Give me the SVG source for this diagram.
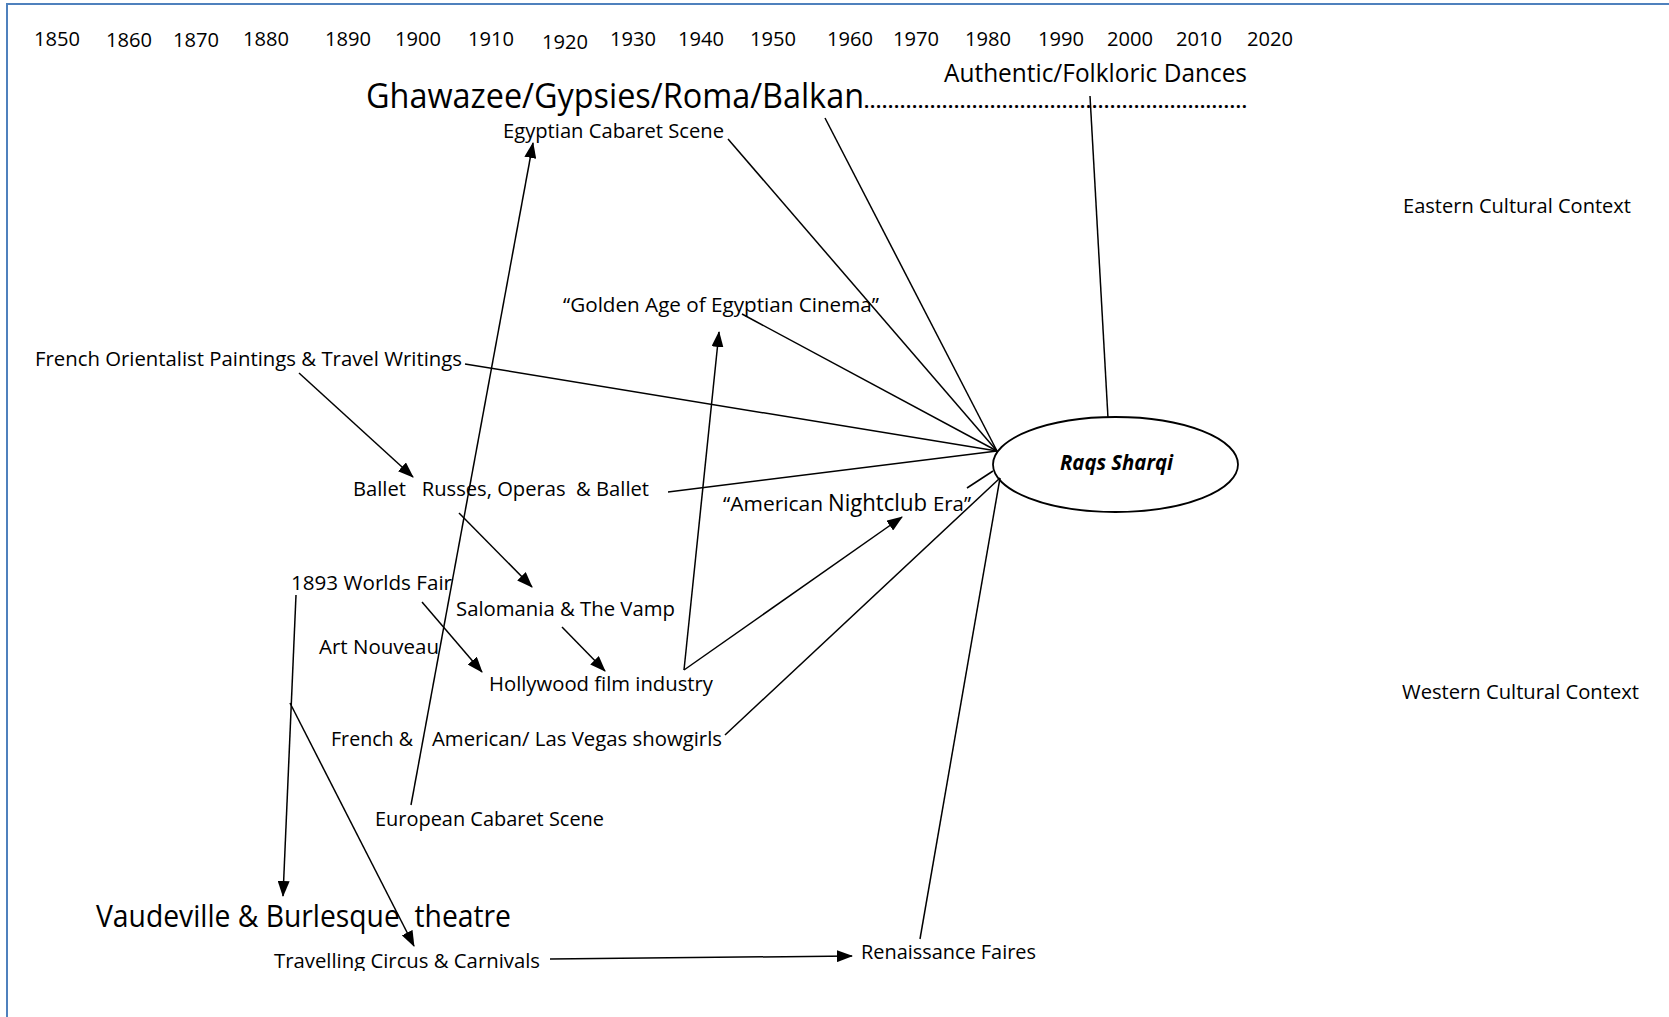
<svg xmlns="http://www.w3.org/2000/svg" width="1669" height="1017" viewBox="0 0 1669 1017">
<style>
  text { font-family: "Open Sans", "Noto Sans", "Liberation Sans", sans-serif; fill: #000; white-space: pre; }
  .yr { font-size: 20px; }
  .lbl { font-size: 20px; }
  .big { font-size: 34px; }
  .mid { font-size: 25px; }
  .dots { font-size: 18px; font-weight: bold; }
  .conn line { stroke: #000; stroke-width: 1.5; fill: none; }
  .arr { marker-end: url(#ah); }
  .frame { stroke: #4F81BD; stroke-width: 2; fill: none; }
</style>
<defs>
  <marker id="ah" markerUnits="userSpaceOnUse" markerWidth="16" markerHeight="12" viewBox="0 0 16 12" refX="15" refY="6" orient="auto">
    <path d="M0,0 L16,6 L0,12 z" fill="#000"/>
  </marker>
  <clipPath id="clipTC"><rect x="260" y="930" width="300" height="41"/></clipPath>
</defs>
<rect width="1669" height="1017" fill="#fff"/>
<path class="frame" d="M7,1017 L7,4 L1669,4"/>

<g id="timeline">
  <text class="yr" x="34" y="46" textLength="46" lengthAdjust="spacingAndGlyphs">1850</text>
  <text class="yr" x="106" y="47" textLength="46" lengthAdjust="spacingAndGlyphs">1860</text>
  <text class="yr" x="173" y="47" textLength="46" lengthAdjust="spacingAndGlyphs">1870</text>
  <text class="yr" x="243" y="46" textLength="46" lengthAdjust="spacingAndGlyphs">1880</text>
  <text class="yr" x="325" y="46" textLength="46" lengthAdjust="spacingAndGlyphs">1890</text>
  <text class="yr" x="395" y="46" textLength="46" lengthAdjust="spacingAndGlyphs">1900</text>
  <text class="yr" x="468" y="46" textLength="46" lengthAdjust="spacingAndGlyphs">1910</text>
  <text class="yr" x="542" y="49" textLength="46" lengthAdjust="spacingAndGlyphs">1920</text>
  <text class="yr" x="610" y="46" textLength="46" lengthAdjust="spacingAndGlyphs">1930</text>
  <text class="yr" x="678" y="46" textLength="46" lengthAdjust="spacingAndGlyphs">1940</text>
  <text class="yr" x="750" y="46" textLength="46" lengthAdjust="spacingAndGlyphs">1950</text>
  <text class="yr" x="827" y="46" textLength="46" lengthAdjust="spacingAndGlyphs">1960</text>
  <text class="yr" x="893" y="46" textLength="46" lengthAdjust="spacingAndGlyphs">1970</text>
  <text class="yr" x="965" y="46" textLength="46" lengthAdjust="spacingAndGlyphs">1980</text>
  <text class="yr" x="1038" y="46" textLength="46" lengthAdjust="spacingAndGlyphs">1990</text>
  <text class="yr" x="1107" y="46" textLength="46" lengthAdjust="spacingAndGlyphs">2000</text>
  <text class="yr" x="1176" y="46" textLength="46" lengthAdjust="spacingAndGlyphs">2010</text>
  <text class="yr" x="1247" y="46" textLength="46" lengthAdjust="spacingAndGlyphs">2020</text>
</g>

<g id="ghawazee">
  <text class="big" x="366" y="108" textLength="498" lengthAdjust="spacingAndGlyphs">Ghawazee/Gypsies/Roma/Balkan</text>
  <text class="dots" x="864" y="108" textLength="383" lengthAdjust="spacing">................................................................</text>
</g>
<g id="authentic"><text class="mid" x="944" y="82" textLength="303" lengthAdjust="spacingAndGlyphs">Authentic/Folkloric Dances</text></g>
<g id="egyptian-cabaret"><text class="lbl" x="503" y="138" textLength="221" lengthAdjust="spacingAndGlyphs">Egyptian Cabaret Scene</text></g>
<g id="eastern"><text class="lbl" x="1403" y="213" textLength="228" lengthAdjust="spacingAndGlyphs">Eastern Cultural Context</text></g>
<g id="western"><text class="lbl" x="1402" y="699" textLength="237" lengthAdjust="spacingAndGlyphs">Western Cultural Context</text></g>
<g id="golden-age"><text class="lbl" x="563" y="312" textLength="316" lengthAdjust="spacingAndGlyphs">“Golden Age of Egyptian Cinema”</text></g>
<g id="french-orientalist"><text class="lbl" x="35" y="366" textLength="427" lengthAdjust="spacingAndGlyphs">French Orientalist Paintings &amp; Travel Writings</text></g>
<g id="ballet"><text class="lbl" x="353" y="496" textLength="296" lengthAdjust="spacingAndGlyphs">Ballet   Russes, Operas  &amp; Ballet</text></g>
<g id="nightclub">
  <text class="lbl" y="511"><tspan x="723" textLength="100" lengthAdjust="spacingAndGlyphs">“American</tspan><tspan x="828" style="font-size:24px" textLength="99" lengthAdjust="spacingAndGlyphs">Nightclub</tspan><tspan x="933" textLength="38" lengthAdjust="spacingAndGlyphs">Era”</tspan></text>
</g>
<g id="worlds-fair"><text class="lbl" x="291" y="590" textLength="161" lengthAdjust="spacingAndGlyphs">1893 Worlds Fair</text></g>
<g id="salomania"><text class="lbl" x="456" y="616" textLength="219" lengthAdjust="spacingAndGlyphs">Salomania &amp; The Vamp</text></g>
<g id="art-nouveau"><text class="lbl" x="319" y="654" textLength="120" lengthAdjust="spacingAndGlyphs">Art Nouveau</text></g>
<g id="hollywood"><text class="lbl" x="489" y="691" textLength="224" lengthAdjust="spacingAndGlyphs">Hollywood film industry</text></g>
<g id="showgirls">
  <text class="lbl" y="746"><tspan x="331" textLength="82" lengthAdjust="spacingAndGlyphs">French &amp;</tspan><tspan x="432" textLength="290" lengthAdjust="spacingAndGlyphs">American/ Las Vegas showgirls</tspan></text>
</g>
<g id="european-cabaret"><text class="lbl" x="375" y="826" textLength="229" lengthAdjust="spacingAndGlyphs">European Cabaret Scene</text></g>
<g id="vaudeville"><text class="big" style="font-size:31px" x="96" y="927" textLength="415" lengthAdjust="spacingAndGlyphs">Vaudeville &amp; Burlesque  theatre</text></g>
<g id="travelling" clip-path="url(#clipTC)"><text class="lbl" x="274" y="968" textLength="266" lengthAdjust="spacingAndGlyphs">Travelling Circus &amp; Carnivals</text></g>
<g id="renaissance"><text class="lbl" x="861" y="959" textLength="175" lengthAdjust="spacingAndGlyphs">Renaissance Faires</text></g>
<g id="raqs-sharqi">
  <ellipse cx="1115.5" cy="464.5" rx="122.5" ry="47.5" fill="none" stroke="#000" stroke-width="1.8"/>
  <text x="1060" y="470" style="font-size:21px;font-weight:bold;font-style:italic" textLength="113" lengthAdjust="spacingAndGlyphs">Raqs Sharqi</text>
</g>

<g id="connectors" class="conn">
  <line class="arr" x1="411" y1="805" x2="533" y2="143"/>
  <line class="arr" x1="299" y1="373" x2="413" y2="477"/>
  <line x1="465" y1="364" x2="997" y2="451"/>
  <line x1="728" y1="139" x2="997" y2="451"/>
  <line x1="825" y1="118" x2="997" y2="451"/>
  <line x1="1090" y1="96" x2="1108" y2="418"/>
  <line x1="742" y1="314" x2="997" y2="451"/>
  <line x1="668" y1="492" x2="997" y2="451"/>
  <line class="arr" x1="459" y1="513" x2="532" y2="587"/>
  <line class="arr" x1="422" y1="602" x2="482" y2="672"/>
  <line class="arr" x1="562" y1="627" x2="605" y2="671"/>
  <line class="arr" x1="684" y1="670" x2="719" y2="332"/>
  <line class="arr" x1="684" y1="670" x2="902" y2="517"/>
  <line x1="967" y1="488" x2="993" y2="471"/>
  <line x1="725" y1="735" x2="1000" y2="478"/>
  <line x1="920" y1="939" x2="1000" y2="478"/>
  <line class="arr" x1="296" y1="595" x2="283" y2="896"/>
  <line class="arr" x1="290" y1="703" x2="414" y2="946"/>
  <line class="arr" x1="550" y1="959" x2="852" y2="956"/>
</g>
</svg>
